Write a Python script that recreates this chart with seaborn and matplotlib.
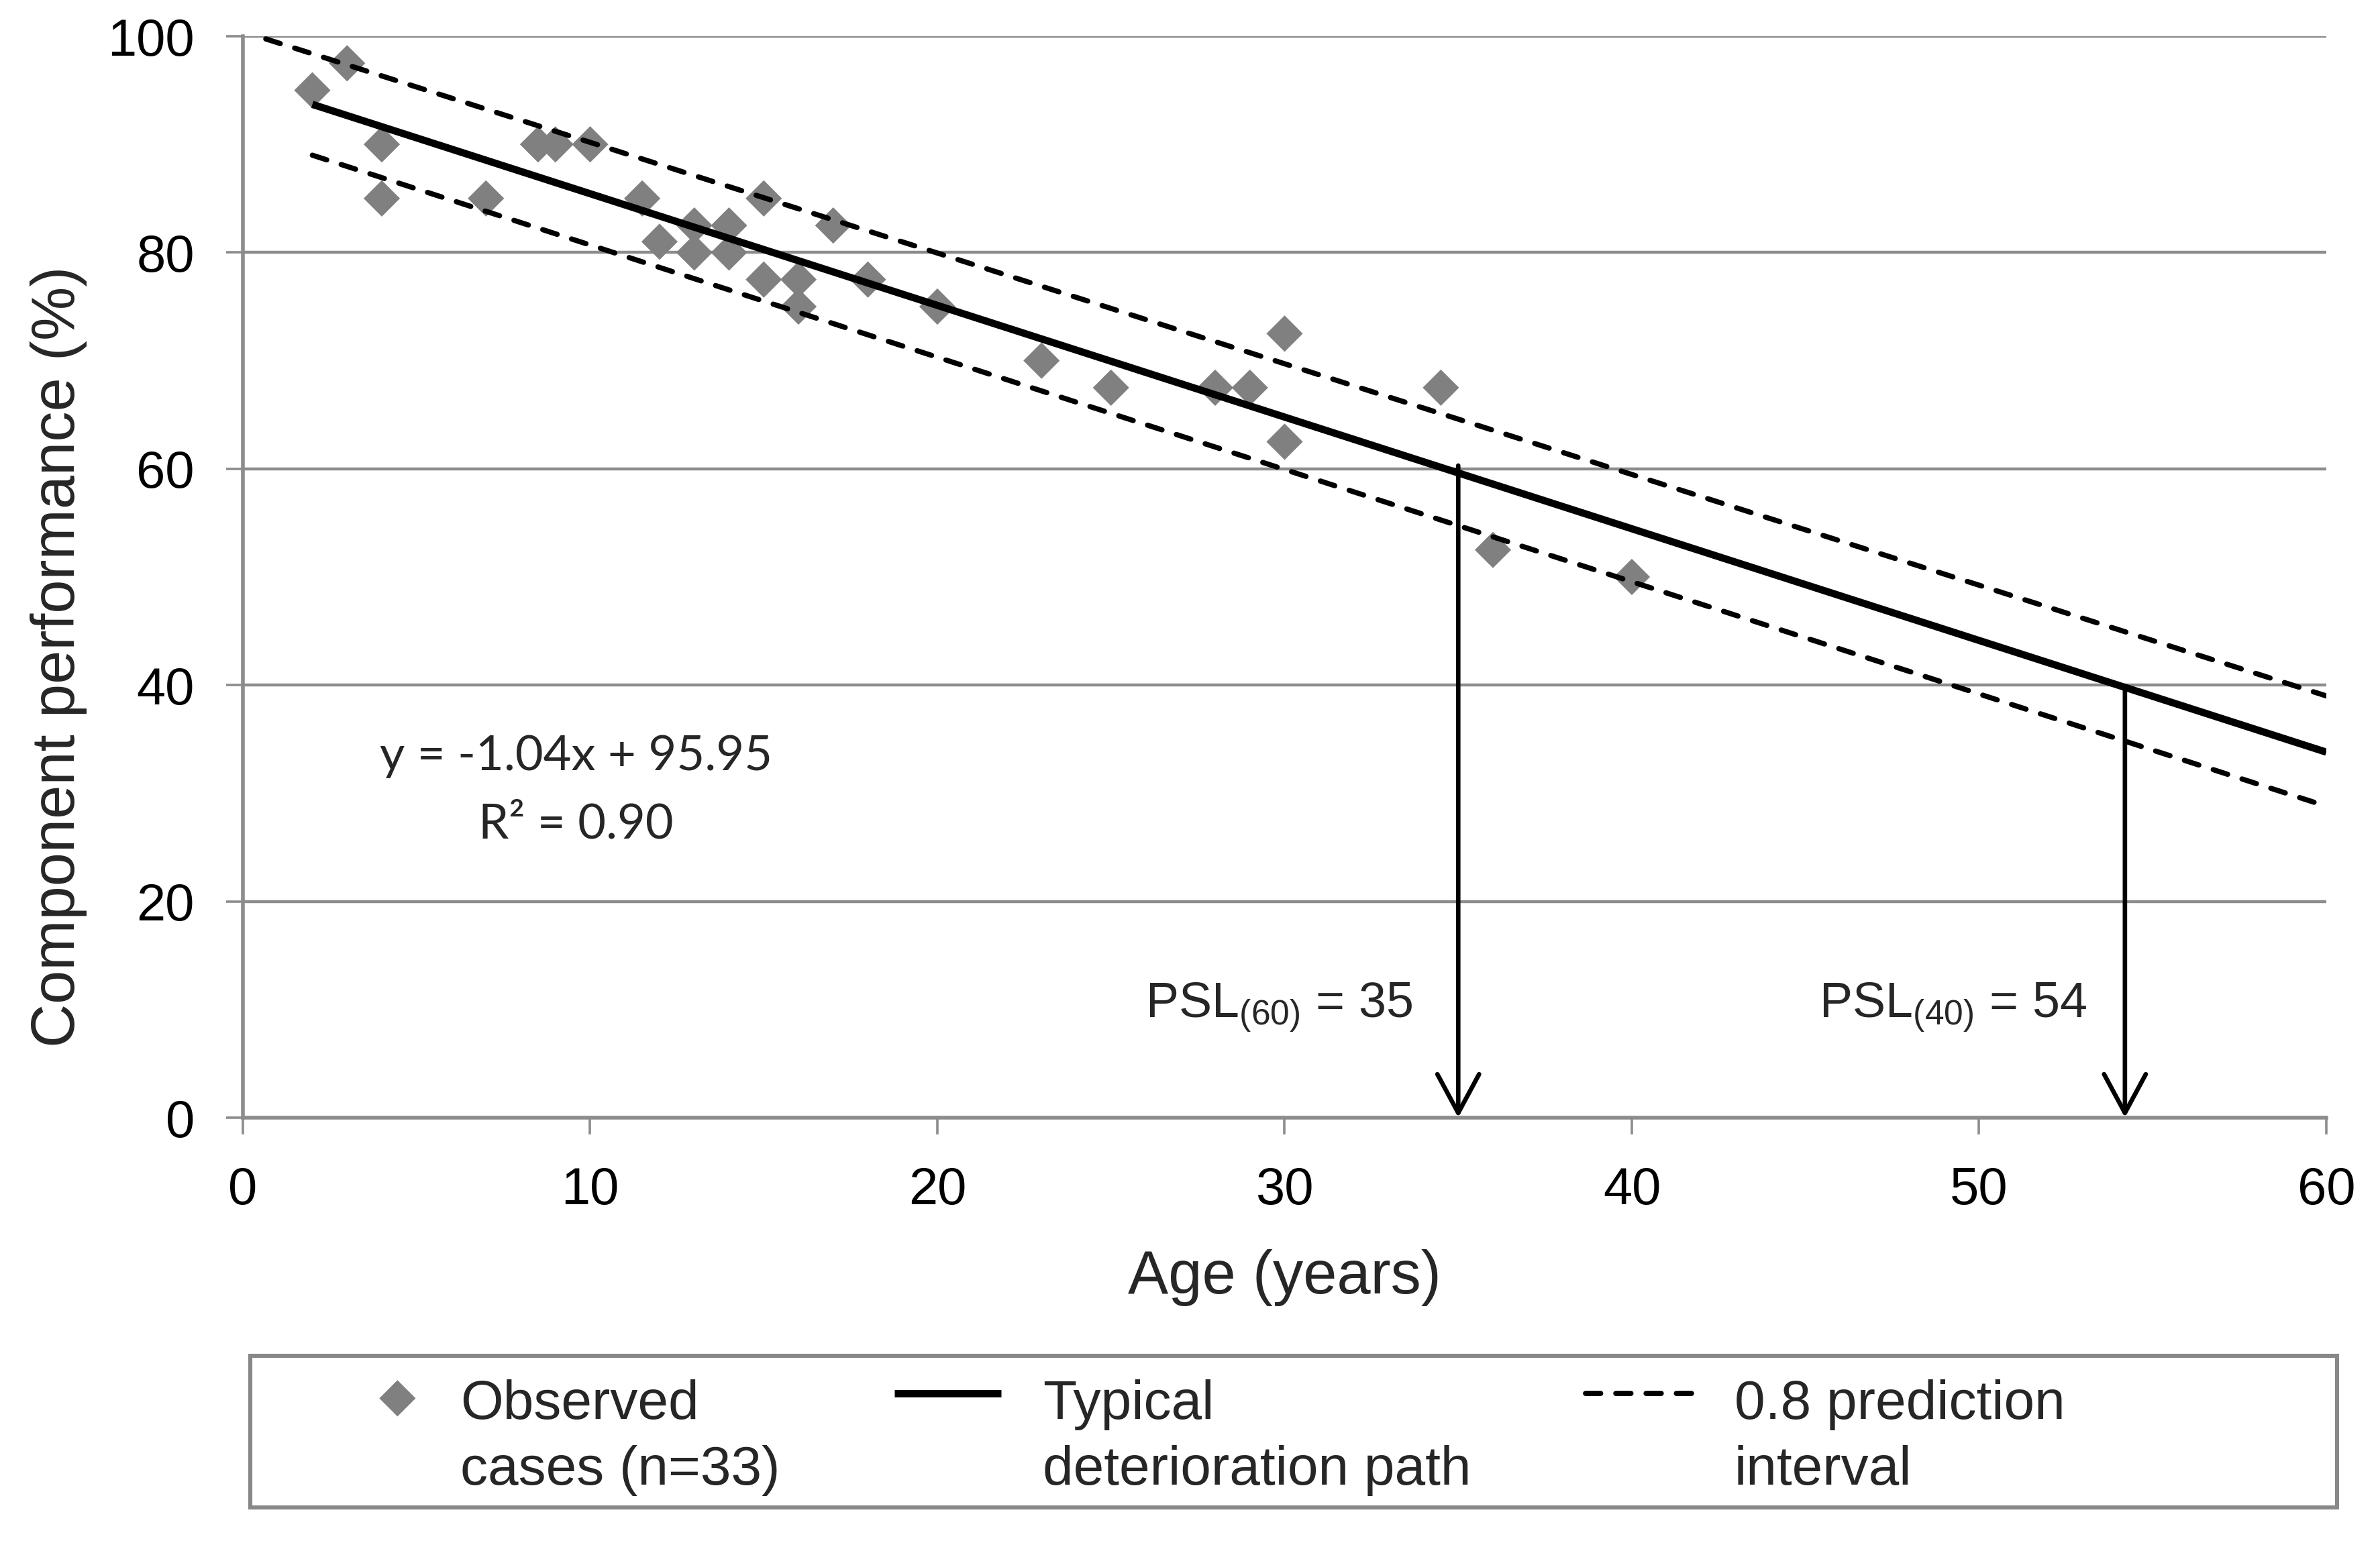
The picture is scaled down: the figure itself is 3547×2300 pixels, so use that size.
import numpy as np
import matplotlib
matplotlib.use("Agg")
import matplotlib.pyplot as plt
from matplotlib.lines import Line2D
from matplotlib.patches import Rectangle
import seaborn as sns

# ---------------- data ----------------
age = [2, 3, 4, 4, 7, 8.5, 9, 10, 11.5, 12, 13, 13, 14, 14, 15, 15, 16, 16,
       17, 18, 20, 23, 25, 28, 29, 30, 30, 34.5, 36, 40]
performance = [95, 97.5, 90, 85, 85, 90, 90, 90, 85, 81, 82.5, 80, 82.5, 80,
               85, 77.5, 77.5, 75, 82.5, 77.5, 75, 70, 67.5, 67.5, 67.5, 72.5,
               62.5, 67.5, 52.5, 50]

trend_x = [2, 60]
trend_y = [93.7, 33.8]
upper_x = [0.66, 60]
upper_y = [99.75, 39.0]
lower_x = [2, 60]
lower_y = [89.0, 28.8]

psl_x = [35.0, 54.2]
psl_top = [60.3, 39.9]
psl_labels = [r"PSL$_{\mathrm{(60)}}$ = 35", r"PSL$_{\mathrm{(40)}}$ = 54"]

x_ticks = [0, 10, 20, 30, 40, 50, 60]
y_ticks = [0, 20, 40, 60, 80, 100]

eq_text = "y = -1.04x + 95.95"
r2_text = "R\u00b2 = 0.90"

lab_scatter = "Observed\ncases (n=33)"
lab_trend = "Typical\ndeterioration path"
lab_pi = "0.8 prediction\ninterval"

# ---------------- style ----------------
sns.set_style("white")
plt.rcParams["font.family"] = ["Liberation Sans", "DejaVu Sans"]
plt.rcParams["mathtext.fontset"] = "custom"
plt.rcParams["mathtext.rm"] = "Liberation Sans"
plt.rcParams["mathtext.it"] = "Liberation Sans:italic"
plt.rcParams["mathtext.bf"] = "Liberation Sans:bold"

W, H = 3548, 2300
DPI = 200
fig = plt.figure(figsize=(W / DPI, H / DPI), dpi=DPI)
L, R, T, B = 362, 3467, 54, 1666
ax = fig.add_axes([L / W, 1 - B / H, (R - L) / W, (B - T) / H])

GRID = "#8c8c8c"

sns.scatterplot(x=age, y=performance, ax=ax, marker="D", s=190,
                color="#808080", edgecolor="none", linewidth=0,
                label=lab_scatter, zorder=3)
sns.lineplot(x=trend_x, y=trend_y, ax=ax, color="black", linewidth=3.9,
             sort=False, estimator=None, label=lab_trend, zorder=4,
             solid_capstyle="butt")
sns.lineplot(x=upper_x, y=upper_y, ax=ax, color="black", linewidth=2.8,
             sort=False, estimator=None, label=lab_pi, zorder=4,
             linestyle=(0, (2.9, 2.9)), dash_capstyle="round")
sns.lineplot(x=lower_x, y=lower_y, ax=ax, color="black", linewidth=2.8,
             sort=False, estimator=None, label="_nolegend_", zorder=4,
             linestyle=(0, (2.9, 2.9)), dash_capstyle="round")
if ax.get_legend() is not None:
    ax.get_legend().remove()

ax.set_xlim(0, 60)
ax.set_ylim(0, 100)
ax.set_xticks(x_ticks)
ax.set_yticks(y_ticks)
ax.set_axisbelow(True)
ax.yaxis.grid(True, color=GRID, linewidth=1.6)
ax.xaxis.grid(False)
for s in ["top", "right"]:
    ax.spines[s].set_visible(False)
for s in ["left", "bottom"]:
    ax.spines[s].set_color(GRID)
    ax.spines[s].set_linewidth(2.0)
ax.tick_params(axis="both", which="major", bottom=True, left=True,
               direction="out", length=9, width=1.3, color=GRID,
               labelsize=28, pad=17, labelcolor="black")

ax.set_xlabel("Age (years)", fontsize=32.5)
ax.set_ylabel("Component performance (%)", fontsize=32.5)
ax.xaxis.set_label_coords(0.5, -0.1216)
ax.yaxis.set_label_coords(-0.0747, 0.426)

# arrows for PSL
for xx, yt in zip(psl_x, psl_top):
    ax.annotate("", xy=(xx, 0), xytext=(xx, yt),
                arrowprops=dict(arrowstyle="->,head_length=1.04,head_width=0.56",
                                lw=2.4, color="black", shrinkA=0, shrinkB=0,
                                mutation_scale=20), zorder=5)
ax.text(26.0, 9.2, psl_labels[0], fontsize=26.5, ha="left", va="baseline")
ax.text(45.4, 9.2, psl_labels[1], fontsize=26.5, ha="left", va="baseline")

ax.text(9.6, 33.4, eq_text, fontsize=26, family=["Lato", "DejaVu Sans"],
        ha="center", va="center")
ax.text(9.6, 27.1, r2_text, fontsize=26, family=["Lato", "DejaVu Sans"],
        ha="center", va="center")

# legend
h_all, l_all = ax.get_legend_handles_labels()
order = [lab_scatter, lab_trend, lab_pi]
hmap = dict(zip(l_all, h_all))
handles = [hmap[k] for k in order]

FS = 29.5
PX = 72 / 200  # points per pixel
lx0 = 464
ly0, ly1 = 2021, 2247
leg = fig.legend(handles, order, loc="center left", ncol=3,
                 bbox_to_anchor=(lx0 / W, 1 - 2143 / H),
                 frameon=False, borderpad=0, borderaxespad=0,
                 fontsize=FS, handlelength=159 * PX / FS,
                 handletextpad=63 * PX / FS,
                 columnspacing=170 * PX / FS)
for t in leg.get_texts():
    t.set_linespacing(1.36)
dy = 24.0
dx_marker = 17.6
for h in leg.legend_handles:
    if isinstance(h, Line2D):
        h.set_ydata(np.asarray(h.get_ydata(), dtype=float) + dy)
    else:
        offs = np.array(h.get_offsets(), dtype=float)
        offs[:, 1] += dy
        offs[:, 0] += dx_marker
        h.set_offsets(offs)

# legend frame
fx0, fx1 = 373, 3483
fig.patches.append(Rectangle((fx0 / W, 1 - ly1 / H), (fx1 - fx0) / W, (ly1 - ly0) / H,
                             transform=fig.transFigure, facecolor="white",
                             edgecolor="#888888", linewidth=2.2, zorder=1))

fig.savefig("out.png", dpi=DPI)
